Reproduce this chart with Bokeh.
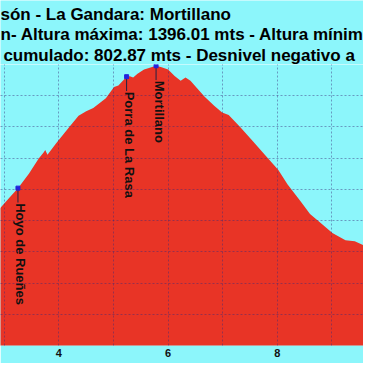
import math
from bokeh.plotting import figure
from bokeh.layouts import column
from bokeh.models import FixedTicker, Range1d, ColumnDataSource
from bokeh.core.properties import value
from bokeh.embed import file_html
from bokeh.resources import INLINE

# Elevation profile (distance in km, altitude in m)
dist = [2.90, 2.93, 3.10, 3.25, 3.45, 3.63, 3.72, 3.75, 3.79, 3.95, 4.19, 4.36,
        4.50, 4.63, 4.86, 5.01, 5.09, 5.24, 5.30, 5.36, 5.44, 5.56, 5.65, 5.78,
        5.88, 6.00, 6.12, 6.23, 6.32, 6.41, 6.56, 6.67, 6.85, 6.99, 7.11, 7.32,
        7.55, 7.78, 8.02, 8.19, 8.43, 8.60, 8.78, 9.01, 9.25, 9.42, 9.58, 9.62]
elev = [935, 941, 975, 1004, 1050, 1099, 1118, 1126, 1111, 1148, 1200, 1236,
        1250, 1261, 1292, 1328, 1333, 1361, 1362, 1358, 1370, 1384, 1389, 1396,
        1391, 1384, 1363, 1348, 1358, 1348, 1318, 1297, 1267, 1246, 1238, 1200,
        1155, 1109, 1062, 1016, 961, 921, 895, 860, 837, 834, 821, 818]

# Named points
wp_names = ["Hoyo de Rueñes", "Porra de La Rasa", "Mortillano"]
wp_dist = [3.25, 5.24, 5.78]
wp_elev = [1004, 1361, 1396]

# Axis ticks
x_label_ticks = [2, 4, 6, 8, 10]
x_grid_ticks = [3, 4, 5, 6, 7, 8, 9]
y_grid_ticks = [500, 600, 700, 800, 900, 1000, 1100, 1200, 1300, 1400]

# Title lines (visible part)
title_lines = ["són - La Gandara: Mortillano",
               "n- Altura máxima: 1396.01 mts - Altura mínim",
               "cumulado: 802.87 mts - Desnivel negativo a"]

BG = "#8cf6fb"
RED = "#e83426"
FONT = "Liberation Sans"
W = 363
TOP_H = 64

X0, X1 = 2.93, 9.58
Y0, Y1 = 500, 1400

# ---- title strip ----
t = figure(width=W, height=TOP_H, output_backend="svg", toolbar_location=None,
           x_range=Range1d(0, W), y_range=Range1d(TOP_H, 0),
           x_axis_location=None, y_axis_location=None,
           min_border=0)
t.background_fill_color = BG
t.border_fill_color = BG
t.outline_line_color = None
t.xgrid.visible = False
t.ygrid.visible = False
tsrc = ColumnDataSource(dict(x=[0.0, 0.0, 2.9], y=[13.5, 34.2, 54.8], s=title_lines))
t.text(x="x", y="y", text="s", source=tsrc, text_font=value(FONT),
       text_font_style="bold", text_font_size="17px", text_color="#000000",
       text_baseline="alphabetic", text_align="left")

# ---- profile ----
p = figure(width=W, height=W - TOP_H, output_backend="svg", toolbar_location=None,
           x_range=Range1d(X0, X1), y_range=Range1d(Y0, Y1),
           y_axis_location=None, min_border_left=0, min_border_right=0,
           min_border_top=0, min_border_bottom=18)
p.background_fill_color = BG
p.border_fill_color = BG
p.outline_line_color = None

src = ColumnDataSource(dict(x=dist, e=elev))
p.varea(x="x", y1=Y0 - 100, y2="e", source=src, fill_color=RED)

wsrc = ColumnDataSource(dict(x=wp_dist, e=wp_elev, e2=[v - 46 for v in wp_elev], n=wp_names))
p.segment(x0="x", y0="e", x1="x", y1="e2", source=wsrc, line_color="#222244", line_width=1)
p.scatter(x="x", y="e", source=wsrc, marker="square", size=4, color="#2222dd")
p.text(x="x", y="e", text="n", source=wsrc, angle=-math.pi / 2,
       text_align="left", text_baseline="alphabetic", x_offset=3, y_offset=15,
       text_font=value(FONT), text_font_style="bold", text_font_size="13px",
       text_color="#111111")

p.xgrid.ticker = FixedTicker(ticks=x_grid_ticks)
p.ygrid.ticker = FixedTicker(ticks=y_grid_ticks)
for g in (p.xgrid, p.ygrid):
    g.grid_line_color = "#3a2a7a"
    g.grid_line_alpha = 0.45
    g.grid_line_dash = "2 2"
    g.grid_line_width = 1
    g.level = "overlay"

ax = p.xaxis[0]
ax.ticker = FixedTicker(ticks=x_label_ticks)
ax.axis_line_color = None
ax.major_tick_line_color = None
ax.minor_tick_line_color = None
ax.major_tick_out = 0
ax.major_tick_in = 0
ax.major_label_standoff = 3
ax.major_label_text_font = FONT
ax.major_label_text_font_style = "bold"
ax.major_label_text_font_size = "11px"
ax.major_label_text_color = "#111111"

layout = column(t, p, spacing=0)
open("out.html", "w").write(file_html(layout, INLINE))
